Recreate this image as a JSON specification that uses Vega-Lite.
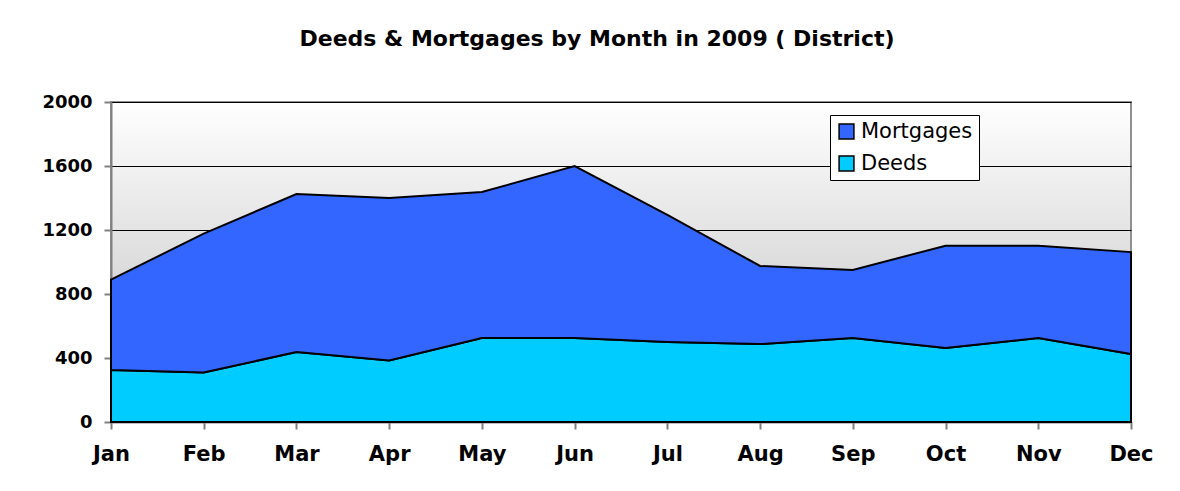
{
  "$schema": "https://vega.github.io/schema/vega-lite/v6.json",
  "width": 1020,
  "height": 320,
  "autosize": "none",
  "padding": {"left": 111, "top": 102, "right": 49, "bottom": 69},
  "background": "white",
  "title": {
    "text": "Deeds & Mortgages by Month in 2009 ( District)",
    "font": "DejaVu Sans",
    "fontSize": 22,
    "fontWeight": "bold",
    "color": "black",
    "anchor": "middle",
    "dx": -24,
    "offset": 42
  },
  "data": {
    "values": [
      {"month": "Jan", "series": "Deeds", "value": 325},
      {"month": "Feb", "series": "Deeds", "value": 310},
      {"month": "Mar", "series": "Deeds", "value": 437},
      {"month": "Apr", "series": "Deeds", "value": 385},
      {"month": "May", "series": "Deeds", "value": 525},
      {"month": "Jun", "series": "Deeds", "value": 525},
      {"month": "Jul", "series": "Deeds", "value": 500},
      {"month": "Aug", "series": "Deeds", "value": 487},
      {"month": "Sep", "series": "Deeds", "value": 525},
      {"month": "Oct", "series": "Deeds", "value": 462},
      {"month": "Nov", "series": "Deeds", "value": 525},
      {"month": "Dec", "series": "Deeds", "value": 425},
      {"month": "Jan", "series": "Mortgages", "value": 565},
      {"month": "Feb", "series": "Mortgages", "value": 867},
      {"month": "Mar", "series": "Mortgages", "value": 988},
      {"month": "Apr", "series": "Mortgages", "value": 1015},
      {"month": "May", "series": "Mortgages", "value": 912},
      {"month": "Jun", "series": "Mortgages", "value": 1075},
      {"month": "Jul", "series": "Mortgages", "value": 795},
      {"month": "Aug", "series": "Mortgages", "value": 488},
      {"month": "Sep", "series": "Mortgages", "value": 425},
      {"month": "Oct", "series": "Mortgages", "value": 640},
      {"month": "Nov", "series": "Mortgages", "value": 577},
      {"month": "Dec", "series": "Mortgages", "value": 637}
    ]
  },
  "mark": {"type": "area", "stroke": "black", "strokeWidth": 2, "opacity": 1, "fillOpacity": 1},
  "encoding": {
    "x": {
      "field": "month",
      "type": "ordinal",
      "sort": ["Jan","Feb","Mar","Apr","May","Jun","Jul","Aug","Sep","Oct","Nov","Dec"],
      "scale": {"type": "point", "padding": 0},
      "axis": {
        "title": null,
        "labelAngle": 0,
        "labelFont": "DejaVu Sans",
        "labelFontSize": 21,
        "labelFontWeight": "bold",
        "labelColor": "black",
        "labelPadding": 14,
        "tickSize": 7,
        "tickColor": "#808080",
        "tickWidth": 2,
        "domainColor": "#808080",
        "domainWidth": 2,
        "grid": false
      }
    },
    "y": {
      "field": "value",
      "type": "quantitative",
      "stack": "zero",
      "scale": {"domain": [0, 2000], "nice": false},
      "axis": {
        "title": null,
        "values": [0, 400, 800, 1200, 1600, 2000],
        "format": "d",
        "labelFont": "DejaVu Sans",
        "labelFontSize": 18,
        "labelFontWeight": "bold",
        "labelColor": "black",
        "labelPadding": 12,
        "tickSize": 7,
        "tickColor": "#808080",
        "tickWidth": 2,
        "domainColor": "#808080",
        "domainWidth": 2,
        "grid": true,
        "gridColor": "black",
        "gridWidth": 1.2
      }
    },
    "color": {
      "field": "series",
      "type": "nominal",
      "scale": {"domain": ["Mortgages", "Deeds"], "range": ["#3366FF", "#00CCFF"]},
      "legend": {
        "title": null,
        "orient": "none",
        "legendX": 719,
        "legendY": 13,
        "symbolType": "square",
        "symbolSize": 220,
        "symbolStrokeColor": "black",
        "symbolStrokeWidth": 1.5,
        "labelFont": "DejaVu Sans",
        "labelFontSize": 21,
        "labelColor": "black",
        "rowPadding": 10,
        "strokeColor": "black",
        "fillColor": "white",
        "padding": 6
      }
    },
    "order": {"field": "series", "sort": "ascending"}
  },
  "config": {
    "view": {
      "stroke": "#909090",
      "strokeWidth": 2,
      "fill": {
        "gradient": "linear",
        "x1": 0, "y1": 0, "x2": 0, "y2": 1,
        "stops": [
          {"offset": 0, "color": "#ffffff"},
          {"offset": 1, "color": "#bcbcbc"}
        ]
      }
    }
  }
}
